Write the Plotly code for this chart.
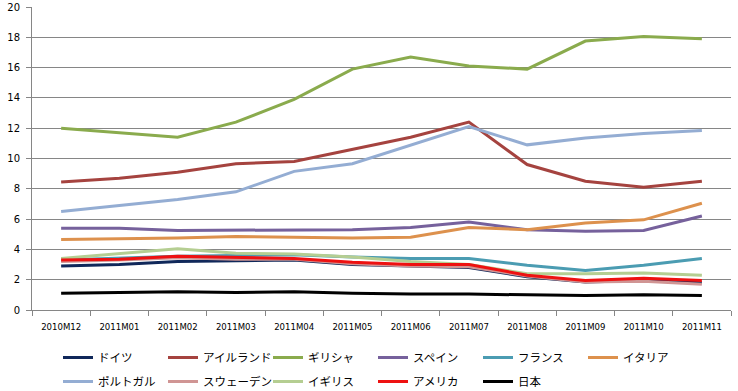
import plotly.graph_objects as go

months = ["2010M12", "2011M01", "2011M02", "2011M03", "2011M04", "2011M05",
          "2011M06", "2011M07", "2011M08", "2011M09", "2011M10", "2011M11"]

germany = [2.9, 3.0, 3.2, 3.25, 3.3, 3.0, 2.9, 2.8, 2.2, 1.85, 1.95, 1.8]
ireland = [8.45, 8.7, 9.1, 9.65, 9.8, 10.6, 11.4, 12.4, 9.6, 8.5, 8.1, 8.5]
greece = [12.0, 11.7, 11.4, 12.4, 13.9, 15.9, 16.7, 16.1, 15.9, 17.75, 18.05, 17.9]
spain = [5.4, 5.4, 5.25, 5.25, 5.3, 5.3, 5.45, 5.8, 5.3, 5.2, 5.25, 6.2]
france = [3.3, 3.4, 3.55, 3.6, 3.65, 3.5, 3.4, 3.4, 2.95, 2.6, 2.95, 3.4]
italy = [4.65, 4.7, 4.75, 4.85, 4.8, 4.75, 4.8, 5.45, 5.3, 5.75, 5.95, 7.05]
portugal = [6.5, 6.9, 7.3, 7.8, 9.15, 9.65, 10.9, 12.1, 10.9, 11.35, 11.65, 11.85]
sweden = [3.2, 3.3, 3.45, 3.35, 3.35, 3.05, 2.9, 2.85, 2.25, 1.85, 1.9, 1.7]
uk = [3.4, 3.75, 4.05, 3.75, 3.7, 3.5, 3.2, 3.0, 2.4, 2.4, 2.45, 2.3]
usa = [3.3, 3.35, 3.55, 3.45, 3.4, 3.15, 3.0, 3.0, 2.3, 1.95, 2.1, 1.95]
japan = [1.1, 1.15, 1.2, 1.15, 1.2, 1.1, 1.05, 1.05, 1.0, 0.95, 1.0, 0.95]

names = ["ドイツ", "アイルランド", "ギリシャ", "スペイン", "フランス", "イタリア",
         "ポルトガル", "スウェーデン", "イギリス", "アメリカ", "日本"]
series = [germany, ireland, greece, spain, france, italy,
          portugal, sweden, uk, usa, japan]
colors = ["#10285A", "#A5433F", "#8AAB4D", "#76619C", "#4B9CB2", "#DD914D",
          "#94ADD3", "#D09594", "#B5CE92", "#EE1111", "#000000"]

fig = go.Figure()
for i, (name, vals, col) in enumerate(zip(names, series, colors)):
    fig.add_trace(go.Scatter(x=months, y=vals, mode="lines", name=name,
                             line=dict(color=col, width=3),
                             legend="legend" if i < 6 else "legend2"))

legend_common = dict(orientation="h", xref="container", yref="container",
                     x=58 / 738, xanchor="left", yanchor="top",
                     entrywidth=60, entrywidthmode="pixels",
                     font=dict(family="Noto Sans CJK JP", size=11.5),
                     traceorder="normal", bgcolor="rgba(0,0,0,0)")

fig.update_layout(
    width=738, height=391,
    margin=dict(l=32, r=7, t=7, b=81, autoexpand=False),
    plot_bgcolor="white", paper_bgcolor="white",
    font=dict(family="Noto Sans CJK JP", size=12, color="#000000"),
    showlegend=True,
    legend=dict(legend_common, y=1 - 343 / 391),
    legend2=dict(legend_common, y=1 - 367 / 391),
    xaxis=dict(type="category", showgrid=False, showline=True,
               linecolor="#868686", linewidth=1,
               ticks="outside", ticklen=5, tickcolor="#868686",
               tickson="boundaries", ticklabelstandoff=8,
               tickfont=dict(family="DejaVu Sans Condensed", size=9.5),
               range=[-0.5, 11.5]),
    yaxis=dict(range=[0, 20], dtick=2, showgrid=True, gridcolor="#868686",
               gridwidth=1, showline=True, linecolor="#868686", linewidth=1,
               ticks="outside", ticklen=5, tickcolor="#868686",
               ticklabelstandoff=4,
               tickfont=dict(family="DejaVu Sans", size=10),
               zeroline=False),
)

fig.write_html("out.html",
               config={"displayModeBar": False},
               post_script="document.body.style.margin='0px';document.body.style.padding='0px';")
